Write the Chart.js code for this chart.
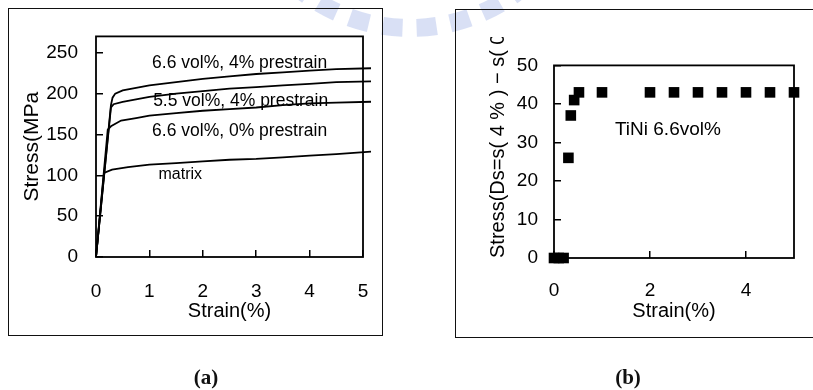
<!DOCTYPE html>
<html><head><meta charset="utf-8">
<script src="https://cdn.jsdelivr.net/npm/chart.js@4.4.1/dist/chart.umd.min.js"></script>
<style>
html,body{margin:0;padding:0;background:#fff;}
#page{position:relative;width:813px;height:390px;overflow:hidden;background:#fff;}
.box{position:absolute;border:1.6px solid #111;box-sizing:border-box;}
canvas{position:absolute;}
.cap{position:absolute;font-family:"Liberation Serif","Times New Roman",serif;font-weight:bold;font-size:21px;color:#111;transform:translate(-50%,-50%);line-height:1;white-space:nowrap;}
</style></head><body>
<div id="page">
<canvas id="wm" width="813" height="390" style="left:0;top:0"></canvas>
<div class="box" style="left:8px;top:8px;width:375px;height:328px"></div>
<div class="box" style="left:455px;top:9px;width:400px;height:329px"></div>
<canvas id="ca" width="400" height="345" style="left:0;top:0"></canvas>
<canvas id="cb" width="393" height="310" style="left:420px;top:31px"></canvas>
<div class="cap" style="left:206px;top:377px">(a)</div>
<div class="cap" style="left:628px;top:377px">(b)</div>
</div>
<script>
// ---------- Panel (a) data: stress–strain curves ----------
const top4Strain   = [0, 0.28, 0.31, 0.36, 0.5, 0.75, 1.0, 1.5, 2.0, 2.5, 3.0, 3.5, 4.0, 4.5, 5.15];
const top4Stress   = [0, 186, 195, 200, 204, 207, 210, 214, 218, 221, 224, 226, 228, 230, 231];
const mid55Strain  = [0, 0.28, 0.33, 0.5, 0.75, 1.0, 1.5, 2.0, 2.5, 3.0, 3.5, 4.0, 4.5, 5.15];
const mid55Stress  = [0, 183, 187, 190, 193, 196, 200, 203, 206, 208, 210, 212, 214, 215];
const zero66Strain = [0, 0.22, 0.28, 0.47, 0.75, 1.0, 1.5, 2.0, 2.5, 3.0, 3.5, 4.0, 4.5, 5.15];
const zero66Stress = [0, 156, 160, 167, 170, 173, 176, 179, 181, 183, 186, 188, 189, 190];
const matrixStrain = [0, 0.15, 0.3, 0.6, 1.0, 1.5, 2.0, 2.5, 3.0, 3.5, 4.0, 4.5, 5.15];
const matrixStress = [0, 103, 107, 110, 113, 115, 117, 119, 120, 122, 124, 126, 129];
const seriesNamesA = ['6.6 vol%, 4% prestrain', '5.5 vol%, 4% prestrain', '6.6 vol%, 0% prestrain', 'matrix'];
const xTicksA = [0, 1, 2, 3, 4, 5];
const yTicksA = [0, 50, 100, 150, 200, 250];

// ---------- Panel (b) data: stress difference ----------
const strainB = [0, 0.1, 0.2, 0.3, 0.35, 0.42, 0.52, 1, 2, 2.5, 3, 3.5, 4, 4.5, 5];
const deltaB  = [0, 0, 0, 26, 37, 41, 43, 43, 43, 43, 43, 43, 43, 43, 43];
const xTicksB = [0, 2, 4];
const yTicksB = [0, 10, 20, 30, 40, 50];
const noteB = 'TiNi 6.6vol%';

const FONT = '"Liberation Sans", Arial, Helvetica, sans-serif';

// faint watermark
(function(){
  const c = document.getElementById('wm').getContext('2d');
  c.strokeStyle = 'rgba(165,182,230,0.42)';
  c.lineWidth = 18;
  c.setLineDash([20, 14]);
  c.beginPath();
  c.arc(410, -150, 178, Math.PI * 0.27, Math.PI * 0.73);
  c.stroke();
})();

const framePlugin = {
  id: 'frame',
  beforeDraw(chart, args, opts) {
    if (!opts.clipTitle) return;
    const {ctx, width, height} = chart;
    ctx.save();
    ctx.beginPath();
    ctx.rect(0, opts.clipTitle.y, width, height);
    ctx.rect(opts.clipTitle.x, 0, width, height);
    ctx.clip();
    chart.$clipped = true;
  },
  beforeDatasetsDraw(chart) {
    const {ctx, chartArea: a} = chart;
    if (chart.$clipped) { ctx.restore(); chart.$clipped = false; }
    ctx.save();
    ctx.strokeStyle = '#000';
    ctx.lineWidth = 1.8;
    ctx.strokeRect(a.left, a.top, a.right - a.left, a.bottom - a.top);
    ctx.restore();
  }
};
const notePlugin = {
  id: 'notes',
  afterDraw(chart, args, opts) {
    const {ctx} = chart;
    const xs = chart.scales.x, ys = chart.scales.y;
    (opts.items || []).forEach(it => {
      ctx.save();
      ctx.font = it.size + 'px ' + FONT;
      ctx.fillStyle = '#000';
      ctx.textAlign = 'left';
      ctx.textBaseline = 'middle';
      ctx.fillText(it.text, xs.getPixelForValue(it.x), ys.getPixelForValue(it.y));
      ctx.restore();
    });
  }
};

function linAxis(o) {
  return {
    type: 'linear',
    min: o.min, max: o.max,
    afterBuildTicks: s => { s.ticks = o.ticks.map(v => ({value: v})); },
    afterFit: s => { if (o.horizontal) s.height = o.size; else s.width = o.size; },
    grid: {drawOnChartArea: false, drawTicks: true, tickLength: -7, color: '#000', lineWidth: 1.5},
    border: {display: false},
    ticks: {padding: o.pad, color: '#000', font: {family: FONT, size: 19}, maxRotation: 0, autoSkip: false},
    title: {display: true, text: o.title, color: '#000', align: o.align || 'center',
            font: {family: FONT, size: o.titleSize}, padding: o.titlePad}
  };
}

const pts = (xs, ys) => xs.map((x, i) => ({x: x, y: ys[i]}));
const curvesA = [
  pts(top4Strain, top4Stress), pts(mid55Strain, mid55Stress),
  pts(zero66Strain, zero66Stress), pts(matrixStrain, matrixStress)
];

new Chart(document.getElementById('ca'), {
  type: 'line',
  data: {
    datasets: curvesA.map((d, i) => ({
      label: seriesNamesA[i], data: d, borderColor: '#000', borderWidth: 1.8,
      pointRadius: 0, fill: false, tension: 0, clip: false
    }))
  },
  options: {
    responsive: false, animation: false, devicePixelRatio: 1,
    layout: {padding: {left: 16, right: 37, top: 33, bottom: 18}},
    plugins: {
      legend: {display: false}, tooltip: {enabled: false},
      frame: {},
      notes: {items: [
        {text: seriesNamesA[0], x: 1.05, y: 237.5, size: 17.5},
        {text: seriesNamesA[1], x: 1.07, y: 190.5, size: 17.5},
        {text: seriesNamesA[2], x: 1.05, y: 153.5, size: 17.5},
        {text: seriesNamesA[3], x: 1.17, y: 100.5, size: 16}
      ]}
    },
    scales: {
      x: linAxis({min: 0, max: 5, ticks: xTicksA, horizontal: true, size: 70, pad: 30,
                  title: 'Strain(%)', titleSize: 20, titlePad: {top: 0, bottom: 4}}),
      y: linAxis({min: 0, max: 270, ticks: yTicksA, horizontal: false, size: 80, pad: 25,
                  title: 'Stress(MPa', titleSize: 21, titlePad: {top: 3.4, bottom: 0}})
    }
  },
  plugins: [framePlugin, notePlugin]
});

new Chart(document.getElementById('cb'), {
  type: 'scatter',
  data: {
    datasets: [{
      label: noteB, data: pts(strainB, deltaB), pointStyle: 'rect', pointRadius: 7.5,
      pointBackgroundColor: '#000', pointBorderWidth: 0, showLine: false, clip: false
    }]
  },
  options: {
    responsive: false, animation: false, devicePixelRatio: 1,
    layout: {padding: {left: 60, right: 19, top: 13, bottom: 13}},
    plugins: {
      legend: {display: false}, tooltip: {enabled: false},
      frame: {clipTitle: {x: 100, y: 6}},
      notes: {items: [{text: noteB, x: 1.27, y: 33.4, size: 19}]}
    },
    scales: {
      x: linAxis({min: 0, max: 5, ticks: xTicksB, horizontal: true, size: 70, pad: 28,
                  title: 'Strain(%)', titleSize: 20, titlePad: {top: 0, bottom: 4.3}}),
      y: linAxis({min: 0, max: 50, ticks: yTicksB, horizontal: false, size: 74, pad: 23,
                  title: 'Stress(Ds=s( 4 % ) \u2212 s( 0%))', titleSize: 20, align: 'start',
                  titlePad: {top: 6, bottom: 0}})
    }
  },
  plugins: [framePlugin, notePlugin]
});
</script>
</body></html>
